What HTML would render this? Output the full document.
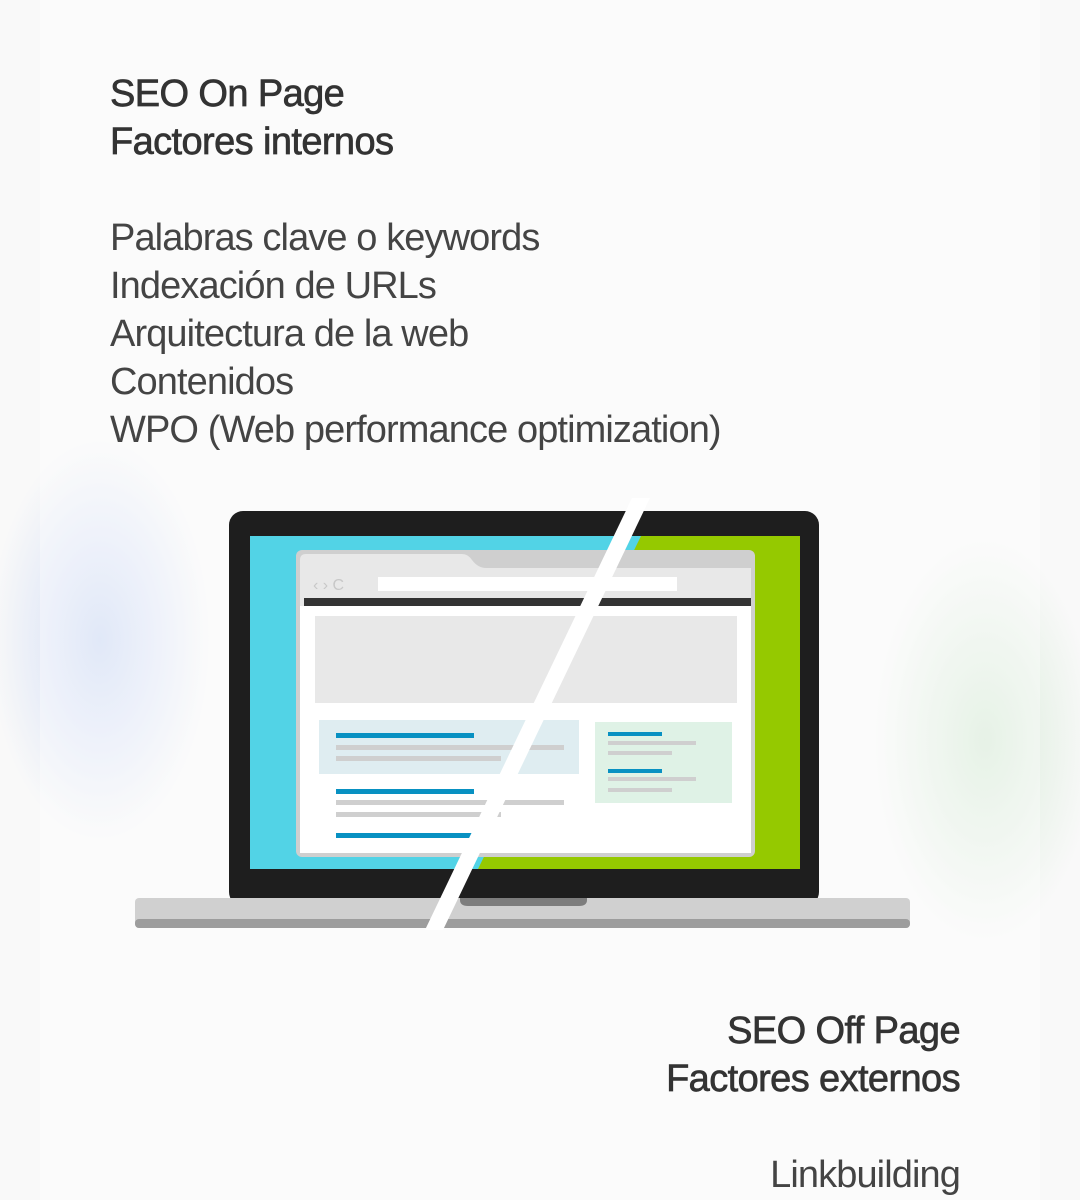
<!DOCTYPE html>
<html><head><meta charset="utf-8"><style>
html,body{margin:0;padding:0}
body{width:1080px;height:1200px;position:relative;overflow:hidden;background:#f9f9f9;font-family:"Liberation Sans",sans-serif;}
.bg{position:absolute;inset:0;background:
radial-gradient(ellipse 110px 200px at 100px 640px,rgba(160,185,240,.45),rgba(160,185,240,0) 100%),
radial-gradient(ellipse 110px 200px at 985px 740px,rgba(170,215,170,.4),rgba(170,215,170,0) 100%);}
.col{position:absolute;left:40px;top:0;width:1000px;height:1200px;background:rgba(255,255,255,.35);}
.t{position:absolute;font-size:38px;line-height:48px;letter-spacing:-0.9px;color:#444;white-space:nowrap;}
.h{color:#333;-webkit-text-stroke:0.7px #333;letter-spacing:-0.6px;}
</style></head><body>
<div class="bg"></div><div class="col"></div>
<div class="t h" style="left:110px;top:70px">SEO On Page<br>Factores internos</div>
<div class="t" style="left:110px;top:214px">Palabras clave o keywords<br>Indexación de URLs<br>Arquitectura de la web<br>Contenidos<br>WPO (Web performance optimization)</div>
<div class="t h" style="right:120px;top:1007px;text-align:right">SEO Off Page<br>Factores externos</div>
<div class="t" style="right:120px;top:1151px;text-align:right">Linkbuilding</div>
<svg style="position:absolute;left:0;top:0" width="1080" height="1200">
<rect x="229" y="511" width="590" height="395" rx="14" fill="#1e1e1e"/>
<rect x="250" y="536" width="550" height="333" fill="#52d3e6"/>
<polygon points="641,536 800,536 800,869 478,869" fill="#95c900"/>
<rect x="296" y="550" width="459" height="307" rx="6" fill="#cfcfcf"/>
<path d="M300 565 V560 Q300 554 306 554 H462 Q468 554 472 560 Q478 568 486 568 H751 V853 H300 Z" fill="#e8e8e8"/>
<rect x="300" y="606" width="451" height="247" fill="#fff"/>
<rect x="378" y="577" width="299" height="14" fill="#fff"/>
<text x="313" y="590" font-size="16" fill="#c8c8c8" font-family="Liberation Sans">‹ › C</text>
<rect x="304" y="598" width="447" height="8" fill="#333"/>
<rect x="315" y="616" width="422" height="87" fill="#e8e8e8"/>
<rect x="319" y="720" width="260" height="54" fill="#dfedf1"/>
<rect x="336" y="733" width="138" height="5" fill="#0891c2"/>
<rect x="336" y="745" width="228" height="5" fill="#cfcfcf"/>
<rect x="336" y="756" width="165" height="5" fill="#cfcfcf"/>
<rect x="336" y="789" width="138" height="5" fill="#0891c2"/>
<rect x="336" y="800" width="228" height="5" fill="#cfcfcf"/>
<rect x="336" y="812" width="165" height="5" fill="#cfcfcf"/>
<rect x="336" y="833" width="138" height="5" fill="#0891c2"/>
<rect x="595" y="722" width="137" height="81" fill="#dff2e6"/>
<rect x="608" y="732" width="54" height="4" fill="#0891c2"/>
<rect x="608" y="741" width="88" height="4" fill="#cfcfcf"/>
<rect x="608" y="751" width="64" height="4" fill="#cfcfcf"/>
<rect x="608" y="769" width="54" height="4" fill="#0891c2"/>
<rect x="608" y="777" width="88" height="4" fill="#cfcfcf"/>
<rect x="608" y="788" width="64" height="4" fill="#cfcfcf"/>
<rect x="135" y="898" width="775" height="30" rx="4" fill="#d0d0d0"/>
<rect x="135" y="919" width="775" height="9" rx="4" fill="#9d9d9d"/>
<path d="M460 898 H587 V900 Q587 906 579 906 H468 Q460 906 460 900 Z" fill="#7d7d7d"/>
<polygon points="632,498 650,498 443,930 425,930" fill="#fff"/>
</svg>
</body></html>
